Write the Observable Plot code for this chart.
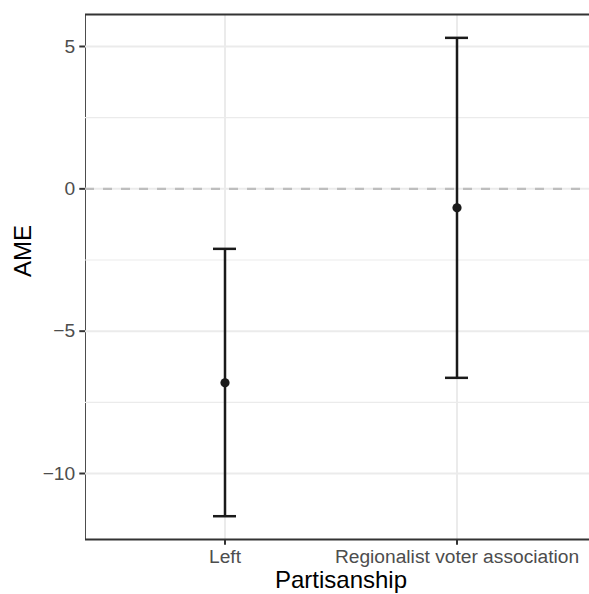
<!DOCTYPE html>
<html>
<head>
<meta charset="utf-8">
<script src="https://cdn.jsdelivr.net/npm/d3@7"></script>
<script src="https://cdn.jsdelivr.net/npm/@observablehq/plot@0.6"></script>
<style>
  html, body { margin: 0; padding: 0; background: white; }
  #chart svg g[aria-label*="axis"] path, #chart svg g[aria-label*="axis"] line { stroke: #333 !important; stroke-width: 2px !important; }
</style>
</head>
<body>
<div id="chart"></div>
<script>
const categories = ["Left", "Regionalist voter association"];
const ame = [-6.815, -0.667];
const lower = [-11.50, -6.639];
const upper = [-2.108, 5.304];
const yTicks = [-10, -5, 0, 5];
const yTickLabels = ["\u221210", "\u22125", "0", "5"];
const yMinor = [-7.5, -2.5, 2.5];
const yDomain = [-12.318, 6.124];
const xTitle = "Partisanship";
const yTitle = "AME";

const data = categories.map((c, i) => ({c, ame: ame[i], lo: lower[i], hi: upper[i]}));

const chart = Plot.plot({
  width: 589,
  height: 594,
  marginLeft: 85,
  marginTop: 14,
  marginBottom: 55,
  marginRight: 0,
  style: {fontFamily: "'Liberation Sans', Arial, sans-serif", fontSize: "19.2px", color: "#4d4d4d", background: "white"},
  x: {type: "band", domain: categories, range: [85, 596], paddingInner: 0.901, paddingOuter: 0.5505, align: 0.5, tickSize: 5.7, tickPadding: 4.6, label: null},
  y: {domain: yDomain, ticks: yTicks, tickFormat: d => yTickLabels[yTicks.indexOf(d)], tickSize: 5.7, tickPadding: 4.6, label: null, line: true},
  marks: [
    Plot.ruleY(yMinor, {stroke: "#ebebeb", strokeWidth: 1.2}),
    Plot.ruleY(yTicks, {stroke: "#ebebeb", strokeWidth: 2}),
    Plot.ruleX(categories, {x: d => d, stroke: "#ebebeb", strokeWidth: 2}),
    Plot.ruleY([0], {stroke: "#bebebe", strokeWidth: 2.2, strokeDasharray: "9,9"}),
    Plot.ruleX(data, {x: "c", y1: "lo", y2: "hi", stroke: "#1a1a1a", strokeWidth: 2.5}),
    Plot.tickY(data, {x: "c", y: "lo", stroke: "#1a1a1a", strokeWidth: 2.5}),
    Plot.tickY(data, {x: "c", y: "hi", stroke: "#1a1a1a", strokeWidth: 2.5}),
    Plot.dot(data, {x: "c", y: "ame", r: 4.6, fill: "#1a1a1a", stroke: "none"}),
    Plot.ruleY(yDomain, {stroke: "#333", strokeWidth: 2}),
    Plot.text([xTitle], {frameAnchor: "bottom", lineAnchor: "bottom", dy: 48, dx: 3.5, fontSize: 24, fill: "black"}),
    Plot.text([yTitle], {frameAnchor: "left", lineAnchor: "bottom", rotate: -90, dx: -55, fontSize: 24, fill: "black"})
  ]
});
document.getElementById("chart").appendChild(chart);
</script>
</body>
</html>
